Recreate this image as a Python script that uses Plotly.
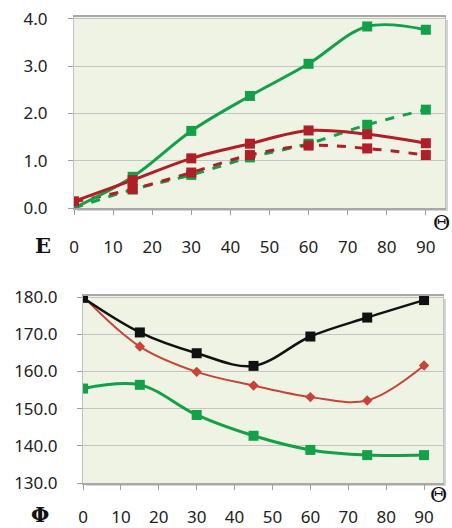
import plotly.graph_objects as go

theta = [0, 15, 30, 45, 60, 75, 90]
x_ticks = [0, 10, 20, 30, 40, 50, 60, 70, 80, 90]

# Top chart (E)
e_green_solid = [0.00, 0.66, 1.63, 2.37, 3.05, 3.84, 3.77]
e_green_dash = [0.00, 0.39, 0.70, 1.07, 1.36, 1.76, 2.08]
e_red_solid = [0.14, 0.59, 1.05, 1.36, 1.64, 1.56, 1.37]
e_red_dash = [0.13, 0.40, 0.75, 1.12, 1.32, 1.26, 1.12]
e_ticks = [0.0, 1.0, 2.0, 3.0, 4.0]

# Bottom chart (Phi)
phi_black = [179.8, 170.5, 164.9, 161.5, 169.4, 174.5, 179.2]
phi_red = [180.2, 166.7, 159.9, 156.2, 153.1, 152.2, 161.6]
phi_green = [155.4, 156.4, 148.3, 142.7, 138.9, 137.5, 137.5]
phi_ticks = [130.0, 140.0, 150.0, 160.0, 170.0, 180.0]

GREEN = "#12a048"
RED = "#b01f27"
RED2 = "#c8433a"
BLACK = "#111111"
BG = "#eef3e4"
GRID = "#c4c4c4"

W, H = 452, 528

def px_x(p):
    return p / W

def px_y(p):
    return 1 - p / H

fig = go.Figure()

def add(x, y, color, dash, xa, ya, symbol="square", size=10, width=3):
    fig.add_trace(go.Scatter(
        x=x, y=y, xaxis=xa, yaxis=ya, mode="lines+markers",
        line=dict(color=color, width=width, dash=dash, shape="spline", smoothing=1.0),
        marker=dict(symbol=symbol, size=size, color=color),
        showlegend=False, hoverinfo="skip"))

add(theta, e_green_dash, GREEN, "dash", "x", "y")
add(theta, e_red_dash, RED, "dash", "x", "y")
add(theta, e_green_solid, GREEN, "solid", "x", "y")
add(theta, e_red_solid, RED, "solid", "x", "y")

add(theta, phi_green, GREEN, "solid", "x2", "y2", size=10, width=3)
add(theta, phi_red, RED2, "solid", "x2", "y2", symbol="diamond", size=8, width=2)
add(theta, phi_black, BLACK, "solid", "x2", "y2", size=10, width=2.5)

top_x = [px_x(74), px_x(445)]
top_y = [px_y(208), px_y(17)]
bot_x = [px_x(83), px_x(443)]
bot_y = [px_y(483), px_y(296)]

TICKFONT = dict(family="Noto Sans", size=17, color="#222222")

def xaxis(domain, anchor, rng, standoff):
    return dict(domain=domain, anchor=anchor, range=rng, tickvals=x_ticks,
                ticktext=[str(v) for v in x_ticks], ticks="outside", ticklen=5,
                tickcolor="#a0a0a0", showgrid=False, zeroline=False,
                showline=True, linecolor="#a8a8a8", linewidth=1.5, mirror=True,
                tickfont=TICKFONT, ticklabelstandoff=standoff, automargin=False)

def yaxis(domain, anchor, rng, vals, standoff):
    return dict(domain=domain, anchor=anchor, range=rng, tickvals=vals,
                ticktext=[f"{v:.1f}" for v in vals], ticks="outside", ticklen=5,
                tickcolor="#a0a0a0", showgrid=True, gridcolor=GRID, gridwidth=1.2,
                zeroline=False, showline=True, linecolor="#c0c0c0", linewidth=1,
                mirror=True, tickfont=TICKFONT, ticklabelstandoff=standoff,
                automargin=False)

shapes = []
for xd, yd in [(top_x, top_y), (bot_x, bot_y)]:
    shapes.append(dict(type="rect", xref="paper", yref="paper",
                       x0=xd[0] + 3 / W, x1=xd[1] + 3 / W, y0=yd[0] - 3 / H, y1=yd[1] - 3 / H,
                       fillcolor="#d4d4d4", line=dict(width=0), layer="below"))
    shapes.append(dict(type="rect", xref="paper", yref="paper",
                       x0=xd[0], x1=xd[1], y0=yd[0], y1=yd[1],
                       fillcolor=BG, line=dict(width=0), layer="below"))

SERIF = dict(family="DejaVu Serif", size=21, color="#111111")
annotations = [
    dict(text="<b>E</b>", x=px_x(43), y=px_y(245), xref="paper", yref="paper",
         showarrow=False, font=SERIF, xanchor="center", yanchor="middle"),
    dict(text="Θ", x=px_x(441), y=px_y(223), xref="paper", yref="paper",
         showarrow=False, font=SERIF, xanchor="center", yanchor="middle"),
    dict(text="<b>Φ</b>", x=px_x(40), y=px_y(514), xref="paper", yref="paper",
         showarrow=False, font=SERIF, xanchor="center", yanchor="middle"),
    dict(text="Θ", x=px_x(438), y=px_y(495), xref="paper", yref="paper",
         showarrow=False, font=SERIF, xanchor="center", yanchor="middle"),
]

fig.update_layout(
    width=W, height=H, margin=dict(l=0, r=0, t=0, b=0),
    paper_bgcolor="white", plot_bgcolor="rgba(0,0,0,0)",
    xaxis=xaxis(top_x, "y", [0, 94.9], 18),
    yaxis=yaxis(top_y, "x", [0, 4.04], e_ticks, 17),
    xaxis2=xaxis(bot_x, "y2", [0, 95], 13),
    yaxis2=yaxis(bot_y, "x2", [130, 180.3], phi_ticks, 16),
    shapes=shapes, annotations=annotations,
)

fig.write_html("out.html", config={"displayModeBar": False},
               post_script="document.body.style.margin='0px';document.body.style.overflow='hidden';")
